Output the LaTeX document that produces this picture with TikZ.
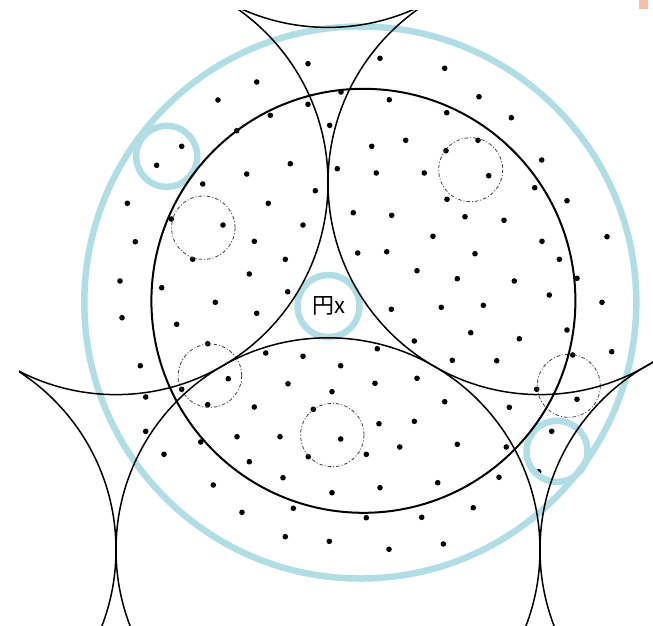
\documentclass[tikz,border=0pt]{standalone}
\usepackage{fontspec}
\newfontfamily\cjk{Noto Sans CJK SC}
\definecolor{pblue}{RGB}{176,222,228}
\definecolor{salmon}{RGB}{250,188,168}
\tikzset{
  lattice/.style={draw=black,line width=1.5pt},
  midcirc/.style={draw=black,line width=2pt},
  bluering/.style={draw=pblue,line width=6.5pt},
  gapcirc/.style={draw=black!75,line width=0.8pt,dash pattern=on 3.5pt off 2pt on 1pt off 2pt},
  dot/.style={fill=black}
}
\begin{document}
\begin{tikzpicture}[x=1pt,y=-1pt]
\useasboundingbox (0,0) rectangle (653,625);
\fill[salmon] (639,0) rectangle (648,8.5);
% dots
\foreach \px/\py in {
256.7/82,218/100,270.3/115.3,236.7/130.7,181.7/146.3,156.7/165.3,246.7/174,202.7/184,127.3/203.3,268.3/203.3,
171.3/219,223/225,135.3/241.7,254.3/241.3,192.7/259.3,249.3/274,120/281,161.7/287.7,215.3/302.3,122/317.7,256.7/313.3,
308/63.7,380/58.3,444.7/68.3,341/92,308/104.3,389.3/99.7,446.7/112.7,329.7/125.3,405.7/140.3,371.7/146.3,446/150.7,
290.3/163.7,337.3/168.7,376.3/173,424.3/173,315.3/190.7,447/199.3,353.3/212.7,391.7/215.3,303/225,433/236.3,
357.7/253,386.7/251.7,285.3/259.3,417/270.7,457.3/278.7,287.7/291.7,391.3/309.3,441.3/307.3,
479/96.7,511.3/117.7,478/140.3,541.7/160,488.7/175.7,534.7/187.7,567/200.7,465/216.7,504/220.3,607/236.7,
542/241.3,475/253.7,559.3/259.3,514.3/281,577/278.3,549.3/295,602/302.3,483.3/305.3,
176.7/324.3,207.7/343.7,140.3/365.7,265.7/353,228.3/378.7,181.7/389.3,145.7/397,207.7/404.7,254.3/407,
145.7/431.3,237/436.7,280/436.7,200.7/442,164/454.3,249.3/461.7,213.3/485,242/512.3,
414.3/341,377.3/348.7,303/356.3,340.7/365.7,452.3/360.3,288/383.7,375/383.3,417/378.3,332/391.7,444.7/401.7,
313.3/409.3,379/423.7,414.3/421.3,340.7/439,399.7/447,457.3/444.3,308.3/456.7,366.3/454.3,283/477.7,
380/487.7,437.7/482.7,332/492.7,293.3/508.3,366.3/517.7,421.7/517.3,285.3/536.7,329.3/541.3,389/549.3,443.3/544,
470.7/332.7,519.3/338.7,567/330,611.7/351.7,496.7/360.7,572.7/355,536.7/389.3,577/399.3,509.3/407.3,
551.7/431.3,506.3/447,538.7/471.7,499/477.3,473.3/507.7}
  \fill[dot] (\px,\py) circle[radius=2.8];
% blue circles
\draw[bluering] (360.3,302.5) circle[radius=276];
\draw[bluering] (166.7,156.3) circle[radius=30.5];
\draw[bluering] (557,451.3) circle[radius=30.5];
\draw[bluering] (328.5,306) circle[radius=31];
% gap circles (dash-dot)
\draw[gapcirc] (203.3,227.7) circle[radius=31.7];
\draw[gapcirc] (470.7,169.7) circle[radius=32];
\draw[gapcirc] (210,375.7) circle[radius=31.7];
\draw[gapcirc] (332.3,435) circle[radius=31.7];
\draw[gapcirc] (568.8,385.8) circle[radius=31.5];
% lattice circles
\coordinate (UL) at (116,182.6);
\coordinate (UR) at (540,182.6);
\coordinate (BC) at (328,549.8);
\coordinate (TC) at (328,-184.6);
\coordinate (LL) at (-96,549.8);
\coordinate (LR) at (752,549.8);
\begin{scope}
\clip (19,10) rectangle (653,625);
\foreach \c in {UL,UR,BC,TC,LL,LR}
  \draw[lattice] (\c) circle[radius=212];
\end{scope}
% middle circle
\draw[midcirc] (363.4,300.8) circle[radius=212];
% label
\node[inner sep=0pt,font=\cjk\fontsize{22}{22}\selectfont] (lab) at (328.5,305.5) {円x};
\end{tikzpicture}
\end{document}
